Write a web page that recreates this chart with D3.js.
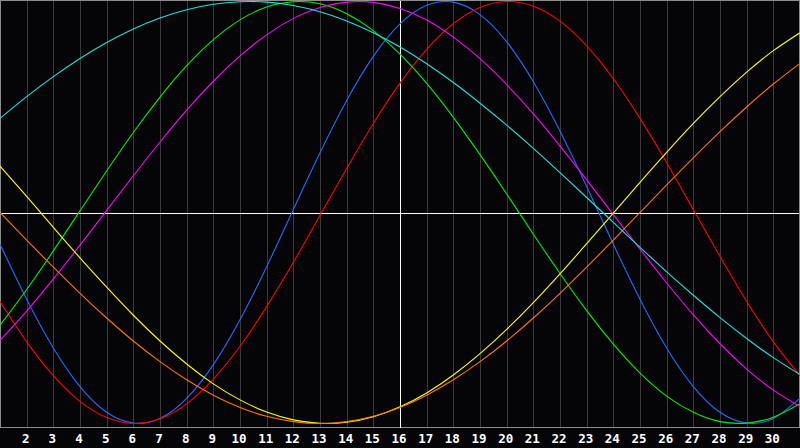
<!DOCTYPE html>
<html><head><meta charset="utf-8">
<script src="https://cdn.jsdelivr.net/npm/d3@7"></script>
<style>
html,body{margin:0;padding:0;background:#050508;overflow:hidden}
svg{display:block}
</style></head>
<body>
<svg id="chart" width="800" height="448"></svg>
<script>
const days = d3.range(1, 32);
const tickLabels = d3.range(2, 31).map(String);
const markerDay = 16;

const physical     = [-0.150,-0.411,-0.642,-0.825,-0.947,-0.998,-0.976,-0.881,-0.721,-0.508,-0.257,0.014,0.283,0.531,0.740,0.894,0.982,0.997,0.938,0.809,0.620,0.386,0.123,-0.150,-0.411,-0.642,-0.825,-0.947,-0.998,-0.976,-0.881];
const emotional    = [-0.422,-0.613,-0.773,-0.895,-0.972,-1.000,-0.978,-0.907,-0.790,-0.634,-0.446,-0.236,-0.013,0.209,0.422,0.613,0.773,0.895,0.972,1.000,0.978,0.907,0.790,0.634,0.446,0.236,0.013,-0.209,-0.422,-0.613,-0.773];
const intellectual = [-0.534,-0.365,-0.182,0.008,0.197,0.379,0.547,0.696,0.819,0.913,0.974,0.999,0.989,0.942,0.862,0.751,0.612,0.451,0.274,0.088,-0.103,-0.289,-0.465,-0.624,-0.761,-0.870,-0.947,-0.991,-0.998,-0.970,-0.906];
const intuitive    = [-0.606,-0.467,-0.315,-0.155,0.010,0.174,0.334,0.485,0.622,0.742,0.842,0.920,0.972,0.997,0.996,0.967,0.912,0.831,0.729,0.606,0.467,0.315,0.155,-0.010,-0.174,-0.334,-0.485,-0.622,-0.742,-0.842,-0.920];
const aesthetic    = [0.220,0.076,-0.070,-0.215,-0.354,-0.487,-0.609,-0.718,-0.812,-0.888,-0.946,-0.983,-0.999,-0.994,-0.968,-0.921,-0.855,-0.770,-0.669,-0.554,-0.427,-0.291,-0.148,-0.003,0.143,0.285,0.422,0.549,0.665,0.767,0.852];
const awareness    = [0.000,-0.131,-0.259,-0.383,-0.500,-0.609,-0.707,-0.793,-0.866,-0.924,-0.966,-0.991,-1.000,-0.991,-0.966,-0.924,-0.866,-0.793,-0.707,-0.609,-0.500,-0.383,-0.259,-0.131,0.000,0.131,0.259,0.383,0.500,0.609,0.707];
const spiritual    = [0.446,0.549,0.644,0.730,0.806,0.870,0.922,0.961,0.987,0.999,0.997,0.981,0.951,0.908,0.852,0.784,0.705,0.616,0.518,0.414,0.304,0.189,0.071,-0.047,-0.165,-0.281,-0.392,-0.498,-0.597,-0.688,-0.768];

const seriesNames  = ["physical","emotional","intellectual","intuitive","aesthetic","awareness","spiritual"];
const seriesValues = [physical, emotional, intellectual, intuitive, aesthetic, awareness, spiritual];
const seriesColors = ["#1e6eff","#ff0000","#00f000","#ff00ff","#ffff00","#ff7400","#20e0e0"];

const svg = d3.select("#chart");
const W = 800, H = 448;
const x = d3.scaleLinear().domain([1, 31]).range([0, 800]);
const y = d3.scaleLinear().domain([-1, 1]).range([423.5, 1.5]);
const plotBottom = 427.5;

svg.append("rect").attr("width", W).attr("height", H).attr("fill", "#050508");

// vertical day grid
const gridDays = days.filter(d => d > 1 && d < 31 && d !== markerDay);
svg.append("g").selectAll("line").data(gridDays).join("line")
  .attr("x1", d => Math.round(x(d)) + 0.5).attr("x2", d => Math.round(x(d)) + 0.5)
  .attr("y1", 0).attr("y2", plotBottom)
  .attr("stroke", "#3a3a3a").attr("stroke-width", 1)
  .attr("shape-rendering", "crispEdges");

// frame
svg.append("path")
  .attr("d", `M0.5,${plotBottom} L0.5,0.5 L799.5,0.5 L799.5,${plotBottom} Z`)
  .attr("fill", "none").attr("stroke", "#8c8c8c").attr("stroke-width", 1)
  .attr("shape-rendering", "crispEdges");

// zero line & marker line
svg.append("line")
  .attr("x1", 1).attr("x2", 799)
  .attr("y1", Math.round(y(0)) + 0.5).attr("y2", Math.round(y(0)) + 0.5)
  .attr("stroke", "#ffffff").attr("stroke-width", 1).attr("shape-rendering", "crispEdges");
svg.append("line")
  .attr("x1", Math.round(x(markerDay)) + 0.5).attr("x2", Math.round(x(markerDay)) + 0.5)
  .attr("y1", 1).attr("y2", plotBottom)
  .attr("stroke", "#ffffff").attr("stroke-width", 1).attr("shape-rendering", "crispEdges");

// curves
const line = d3.line()
  .x((v, i) => x(days[i]))
  .y(v => y(v))
  .curve(d3.curveNatural);

svg.append("g").selectAll("path").data(seriesValues).join("path")
  .attr("d", line)
  .attr("fill", "none")
  .attr("stroke", (d, i) => seriesColors[i])
  .attr("stroke-width", 1.1)
  .attr("class", (d, i) => seriesNames[i]);

// x-axis labels
const axis = d3.axisBottom(x)
  .tickValues(tickLabels.map(Number))
  .tickFormat(d => String(d))
  .tickSize(0).tickPadding(0);
const ag = svg.append("g").attr("transform", `translate(0,${plotBottom})`).call(axis);
ag.select(".domain").remove();
ag.selectAll("text")
  .attr("x", -1.5)
  .attr("y", 15.8).attr("dy", 0)
  .attr("fill", "#ffffff")
  .attr("font-family", "'DejaVu Sans Mono', monospace")
  .attr("font-weight", "bold")
  .attr("font-size", "12.5px");
</script>
</body></html>
